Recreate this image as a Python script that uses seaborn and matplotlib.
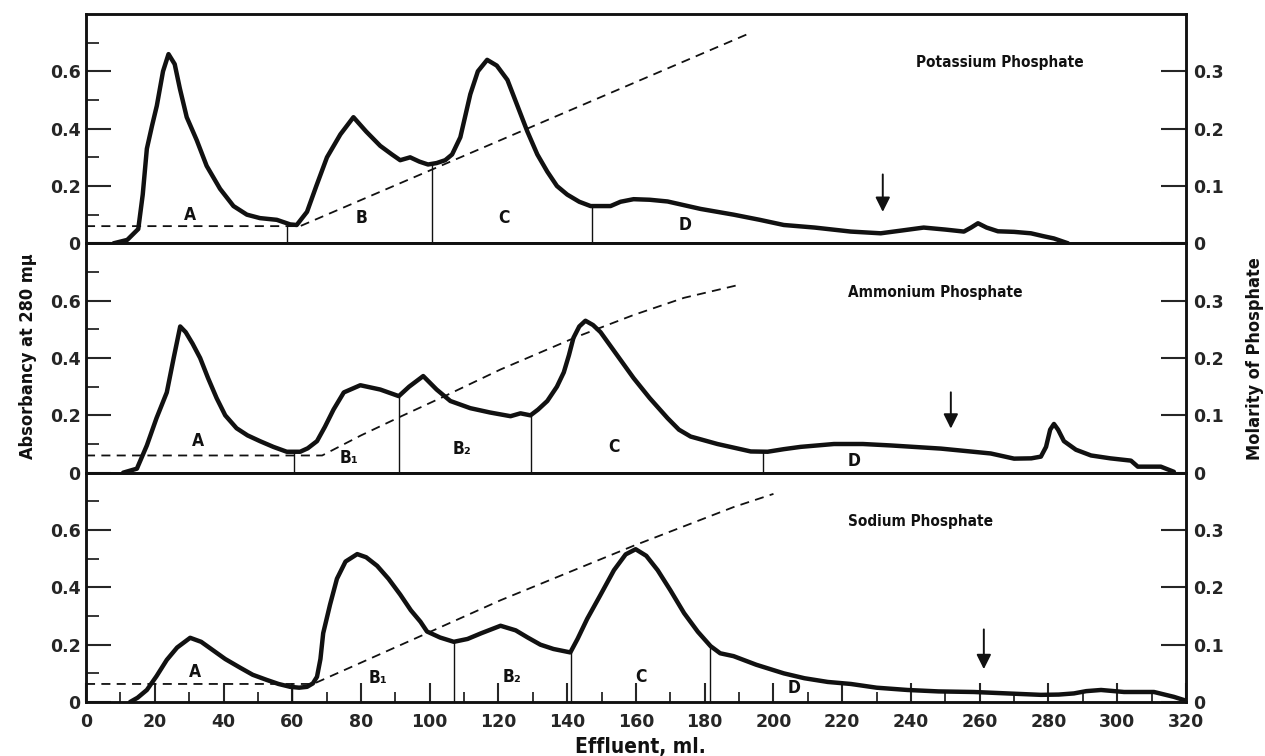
import numpy as np
import matplotlib
matplotlib.use("Agg")
import matplotlib.pyplot as plt
import seaborn as sns

# --- data (effluent ml, absorbancy at 280 mμ) ---
potassium_x = [8, 12, 15.2, 16.5, 17.7, 19.2, 20.6, 22.4, 24, 25.8, 27.3, 29.3, 32.2, 35.1, 39, 42.9,
               46.8, 50.6, 55.5, 59.4, 61.3, 64.3, 67, 70.1, 74, 77.8, 81.5, 85.6, 89, 91.4, 94.3, 97,
               99.5, 102, 104.5, 106.5, 108.9, 111.8, 114, 116.7, 119.5, 122.6, 125.5, 128.4, 131.3,
               134.2, 137, 140, 143.5, 146.8, 150, 152.6, 155.5, 159.3, 164, 169.2, 178.8, 188.4, 196,
               203, 212, 222.5, 231.2, 237.5, 243.7, 250, 255.4, 257.5, 259.5, 262, 265.3, 270, 274.9,
               278.5, 281.6, 285.7]
potassium_y = [0.0, 0.012, 0.05, 0.17, 0.33, 0.41, 0.48, 0.60, 0.66, 0.625, 0.54, 0.44, 0.36, 0.27, 0.19,
               0.13, 0.10, 0.088, 0.082, 0.066, 0.064, 0.11, 0.20, 0.30, 0.38, 0.44, 0.39, 0.34, 0.31,
               0.29, 0.30, 0.285, 0.275, 0.28, 0.29, 0.31, 0.37, 0.52, 0.60, 0.64, 0.62, 0.57, 0.48,
               0.39, 0.31, 0.25, 0.20, 0.17, 0.145, 0.13, 0.13, 0.13, 0.145, 0.154, 0.152, 0.146, 0.12,
               0.10, 0.082, 0.064, 0.055, 0.041, 0.035, 0.045, 0.055, 0.048, 0.041, 0.055, 0.07, 0.055,
               0.042, 0.04, 0.035, 0.025, 0.017, 0.0]

ammonium_x = [10.8, 14.8, 17.7, 20.5, 23.5, 25.5, 27.4, 29, 31, 33.2, 35.5, 38, 40.5, 43.8, 47, 50.6,
              54.5, 58.4, 62.3, 64.5, 67.2, 69.5, 72, 75, 79.8, 85.6, 91, 94, 98.1, 102, 106, 111.8,
              117.5, 123.5, 126.4, 129.3, 131.5, 134.2, 137, 139, 140.5, 141.8, 143.5, 145.3, 147.5,
              149.7, 154.5, 159.3, 164, 169.2, 172.5, 175.9, 183.7, 193.4, 198.3, 203, 207.9, 217.6,
              226, 234.1, 248.7, 263.2, 270, 275, 277.8, 279.3, 280.5, 281.6, 282.8, 284.5, 288, 292.4,
              298, 304, 306, 312.7, 316.5]
ammonium_y = [0.0, 0.014, 0.095, 0.19, 0.28, 0.40, 0.51, 0.49, 0.45, 0.40, 0.33, 0.26, 0.20, 0.155, 0.13,
              0.11, 0.09, 0.073, 0.073, 0.085, 0.11, 0.16, 0.22, 0.28, 0.305, 0.29, 0.267, 0.30, 0.337,
              0.29, 0.25, 0.225, 0.21, 0.197, 0.207, 0.20, 0.22, 0.25, 0.30, 0.35, 0.41, 0.47, 0.51,
              0.53, 0.515, 0.49, 0.41, 0.33, 0.26, 0.19, 0.15, 0.126, 0.10, 0.074, 0.073, 0.082, 0.09,
              0.10, 0.10, 0.095, 0.084, 0.067, 0.049, 0.05, 0.056, 0.09, 0.15, 0.17, 0.15, 0.11, 0.08,
              0.06, 0.05, 0.042, 0.021, 0.021, 0.003]

sodium_x = [12.8, 15, 17.7, 20.5, 23.5, 26.5, 30.3, 33.5, 37, 40.5, 44.8, 48.5, 52.6, 56, 59.4, 62, 64.3,
            66, 67.2, 68.2, 69, 71, 73, 75.5, 78.9, 81.5, 84.7, 88, 91.4, 94.5, 97.3, 99.2, 103, 107,
            111, 115, 120.6, 125, 128.5, 132.2, 136, 140.9, 143, 145.8, 149.5, 153.6, 157, 159.9, 163,
            166.3, 170, 174, 178, 181.7, 184.5, 188.4, 195, 203, 209, 215.8, 222.5, 230, 239, 248,
            258.3, 268, 277.8, 283, 287.4, 291, 295.3, 302, 310.7, 316.5, 319.4]
sodium_y = [0.0, 0.015, 0.042, 0.09, 0.147, 0.19, 0.224, 0.21, 0.18, 0.15, 0.12, 0.095, 0.077, 0.063,
            0.053, 0.05, 0.053, 0.065, 0.088, 0.15, 0.24, 0.34, 0.43, 0.49, 0.516, 0.505, 0.475, 0.43,
            0.375, 0.32, 0.28, 0.246, 0.225, 0.21, 0.22, 0.24, 0.266, 0.25, 0.225, 0.20, 0.185, 0.173,
            0.22, 0.29, 0.37, 0.46, 0.515, 0.533, 0.51, 0.46, 0.39, 0.31, 0.245, 0.195, 0.17, 0.16,
            0.13, 0.10, 0.083, 0.07, 0.063, 0.05, 0.042, 0.037, 0.035, 0.03, 0.025, 0.026, 0.03, 0.038,
            0.042, 0.035, 0.035, 0.018, 0.007]

# phosphate gradient (dashed), plotted on the absorbancy scale (molarity = absorbancy / 2)
potassium_grad_x = [0, 62.3, 192.5]
potassium_grad_y = [0.06, 0.06, 0.73]
ammonium_grad_x = [0, 68.7, 80, 91.4, 104, 120.6, 143, 159.3, 174, 189.9]
ammonium_grad_y = [0.06, 0.06, 0.13, 0.195, 0.265, 0.36, 0.475, 0.55, 0.61, 0.655]
sodium_grad_x = [0, 66.1, 96.4, 120.6, 159.3, 188.4, 200]
sodium_grad_y = [0.063, 0.063, 0.225, 0.355, 0.545, 0.68, 0.726]

# fraction cut positions and the curve height at each cut
potassium_cuts = [58.5, 100.8, 147.3]
potassium_cut_top = [0.065, 0.28, 0.13]
ammonium_cuts = [60.4, 91.1, 129.6, 197]
ammonium_cut_top = [0.073, 0.267, 0.20, 0.073]
sodium_cuts = [60, 107, 141.2, 181.4]
sodium_cut_top = [0.053, 0.21, 0.173, 0.195]

potassium_fractions = ["A", "B", "C", "D"]
potassium_frac_x = [30.3, 80.3, 121.5, 174.4]
potassium_frac_y = [0.10, 0.088, 0.088, 0.065]
ammonium_fractions = ["A", "B₁", "B₂", "C", "D"]
ammonium_frac_x = [32.7, 76.4, 109.4, 153.6, 223.4]
ammonium_frac_y = [0.11, 0.05, 0.084, 0.09, 0.042]
sodium_fractions = ["A", "B₁", "B₂", "C", "D"]
sodium_frac_x = [31.7, 85, 124, 161.3, 205.9]
sodium_frac_y = [0.105, 0.084, 0.088, 0.088, 0.05]

# arrows: x, tail, tip
potassium_arrow = (231.8, 0.25, 0.10)
ammonium_arrow = (251.6, 0.29, 0.144)
sodium_arrow = (261.2, 0.263, 0.105)

panel_titles = ["Potassium Phosphate", "Ammonium Phosphate", "Sodium Phosphate"]
title_x = [241.4, 221.6, 221.6]

abs_ticks = [0, 0.2, 0.4, 0.6]
abs_labels = ["0", "0.2", "0.4", "0.6"]
mol_ticks = [0, 0.1, 0.2, 0.3]
mol_labels = ["0", "0.1", "0.2", "0.3"]
x_ticks = list(range(0, 321, 20))


sns.set_style("ticks")
plt.rcParams["font.family"] = ["DejaVu Sans"]
INK = "#111111"
WORD = dict(fontweight="bold", fontstretch="condensed", color=INK)

panels = [
    (potassium_x, potassium_y, potassium_grad_x, potassium_grad_y, potassium_cuts, potassium_cut_top,
     potassium_fractions, potassium_frac_x, potassium_frac_y, potassium_arrow),
    (ammonium_x, ammonium_y, ammonium_grad_x, ammonium_grad_y, ammonium_cuts, ammonium_cut_top,
     ammonium_fractions, ammonium_frac_x, ammonium_frac_y, ammonium_arrow),
    (sodium_x, sodium_y, sodium_grad_x, sodium_grad_y, sodium_cuts, sodium_cut_top,
     sodium_fractions, sodium_frac_x, sodium_frac_y, sodium_arrow),
]

fig, axes = plt.subplots(3, 1, figsize=(12.65, 7.56), dpi=100, sharex=True)
fig.subplots_adjust(left=0.068, right=0.9375, top=0.9815, bottom=0.0714, hspace=0)

for i, (ax, panel) in enumerate(zip(axes, panels)):
    cx, cy, gx, gy, cuts, cut_top, fr, fx, fy, arrow = panel

    sns.lineplot(x=np.array(gx), y=np.array(gy), ax=ax, color=INK, lw=1.3,
                 linestyle=(0, (5, 3.5)))
    sns.lineplot(x=np.array(cx), y=np.array(cy), ax=ax, color=INK, lw=3.2)
    ax.vlines(cuts, 0, cut_top, color=INK, lw=1.0)

    for label, lx, ly in zip(fr, fx, fy):
        ax.text(lx, ly, label, ha="center", va="center", fontsize=12.5, **WORD)

    ax.annotate("", xy=(arrow[0], arrow[2]), xytext=(arrow[0], arrow[1]),
                arrowprops=dict(arrowstyle="-|>", color=INK, lw=1.4, mutation_scale=22))

    ax.text(title_x[i], 0.63, panel_titles[i], ha="left", va="center", fontsize=11, **WORD)

    ax.set_xlim(0, 320)
    ax.set_ylim(0, 0.8)
    ax.set_yticks(abs_ticks)
    ax.set_yticklabels(abs_labels)
    ax.set_yticks([0.1, 0.3, 0.5, 0.7], minor=True)
    ax.tick_params(axis="y", which="major", direction="in", length=18, width=1.5,
                   labelsize=12.5, pad=4, right=False)
    ax.tick_params(axis="y", which="minor", direction="in", length=9, width=1.3, right=False)
    for lab in ax.get_yticklabels():
        lab.set_fontweight("bold")
    ax.set_xlabel("")
    ax.set_ylabel("")

    ax2 = ax.twinx()
    ax2.set_ylim(0, 0.4)
    ax2.set_yticks(mol_ticks)
    ax2.set_yticklabels(mol_labels)
    ax2.tick_params(axis="y", direction="in", length=18, width=1.5, labelsize=12.5, pad=5)
    for lab in ax2.get_yticklabels():
        lab.set_fontweight("bold")

    for a in (ax, ax2):
        for s in a.spines.values():
            s.set_linewidth(1.8)
            s.set_color(INK)

    if i < 2:
        ax.tick_params(axis="x", which="both", bottom=False, labelbottom=False)
    else:
        ax.set_xticks(x_ticks)
        ax.set_xticks(list(range(10, 320, 20)), minor=True)
        ax.tick_params(axis="x", which="major", direction="in", length=14, width=1.5,
                       labelsize=12.5, pad=8)
        ax.tick_params(axis="x", which="minor", direction="in", length=7, width=1.3)
        for lab in ax.get_xticklabels():
            lab.set_fontweight("bold")

fig.text(0.022, 0.529, "Absorbancy at 280 mμ", rotation=90, ha="center", va="center",
         fontsize=13, **WORD)
fig.text(0.992, 0.525, "Molarity of Phosphate", rotation=90, ha="center", va="center",
         fontsize=13, **WORD)
fig.text(0.506, 0.012, "Effluent, ml.", ha="center", va="center", fontsize=15, **WORD)

fig.savefig("out.png", dpi=100)
